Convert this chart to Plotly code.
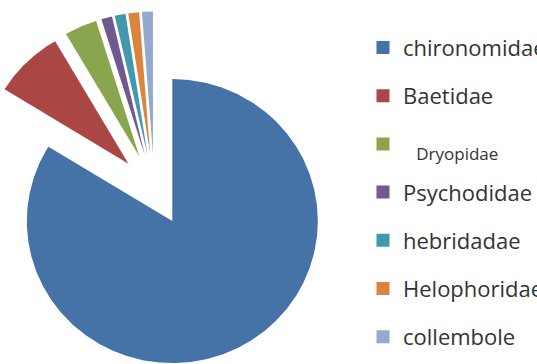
import numpy as np
import plotly.graph_objects as go

# Share of each family in the sample (%)
families = ["chironomidae", "Baetidae", "Dryopidae", "Psychodidae",
            "hebridadae", "Helophoridae", "collembole"]
shares = [83.7, 7.8, 3.6, 1.2, 1.2, 1.2, 1.2]
colors = ["#4572A7", "#AA4643", "#89A54E", "#71588F",
          "#4198AF", "#DB843D", "#93A9CF"]

# Exploded pie geometry (pie radius = 1 unit)
W, H = 537, 364
CX_PX, CY_PX = 154.3, 189.6       # pie centre on the page
SX, SY = 145.5, 142.0             # pixels per radius unit
EXPLODE = 0.254                   # every slice pushed out by this fraction of r

vals = np.asarray(shares, dtype=float)
edges = np.concatenate([[0.0], np.cumsum(vals)]) / vals.sum() * 360.0  # clockwise from 12 o'clock

fig = go.Figure()
for i, name in enumerate(families):
    a0, a1 = edges[i], edges[i + 1]
    mid = np.radians((a0 + a1) / 2)
    ox, oy = EXPLODE * np.sin(mid), EXPLODE * np.cos(mid)
    th = np.radians(np.linspace(a0, a1, max(int(a1 - a0) * 2, 8)))
    xs = np.concatenate([[ox], ox + np.sin(th), [ox]])
    ys = np.concatenate([[oy], oy + np.cos(th), [oy]])
    fig.add_trace(go.Scatter(
        x=xs, y=ys, mode="lines", fill="toself",
        fillcolor=colors[i], line=dict(width=0, color=colors[i]),
        name=name, showlegend=False, hoverinfo="text",
        text=f"{name}: {shares[i]}%", hoveron="fills",
    ))

# Legend entries (square swatches)
FONT_SIZE = 22
for i, name in enumerate(families):
    label = name
    if name == "Dryopidae":
        label = ('<span style="font-size:17px;baseline-shift:-8px">'
                 '&nbsp;&nbsp;&nbsp;' + name + '</span>')
    fig.add_trace(go.Scatter(
        x=[None], y=[None], mode="markers", name=label,
        legendgroup=name,
        marker=dict(symbol="square", size=13, color=colors[i]),
    ))

item_h = FONT_SIZE * 1.3 + 3
fig.update_layout(
    width=W, height=H,
    margin=dict(l=0, r=0, t=0, b=0, autoexpand=False),
    paper_bgcolor="white", plot_bgcolor="white",
    xaxis=dict(range=[-CX_PX / SX, (W - CX_PX) / SX], visible=False, fixedrange=True),
    yaxis=dict(range=[(CY_PX - H) / SY, CY_PX / SY], visible=False, fixedrange=True),
    showlegend=True,
    legend=dict(
        x=363 / W, y=1 - (47.5 - 5 - item_h / 2) / H, xanchor="left", yanchor="top",
        font=dict(family="Open Sans", size=FONT_SIZE, color="#333333"),
        tracegroupgap=48.2 - item_h, bgcolor="rgba(0,0,0,0)", borderwidth=0,
        itemclick=False, itemdoubleclick=False,
    ),
)

fig.write_html("out.html")
